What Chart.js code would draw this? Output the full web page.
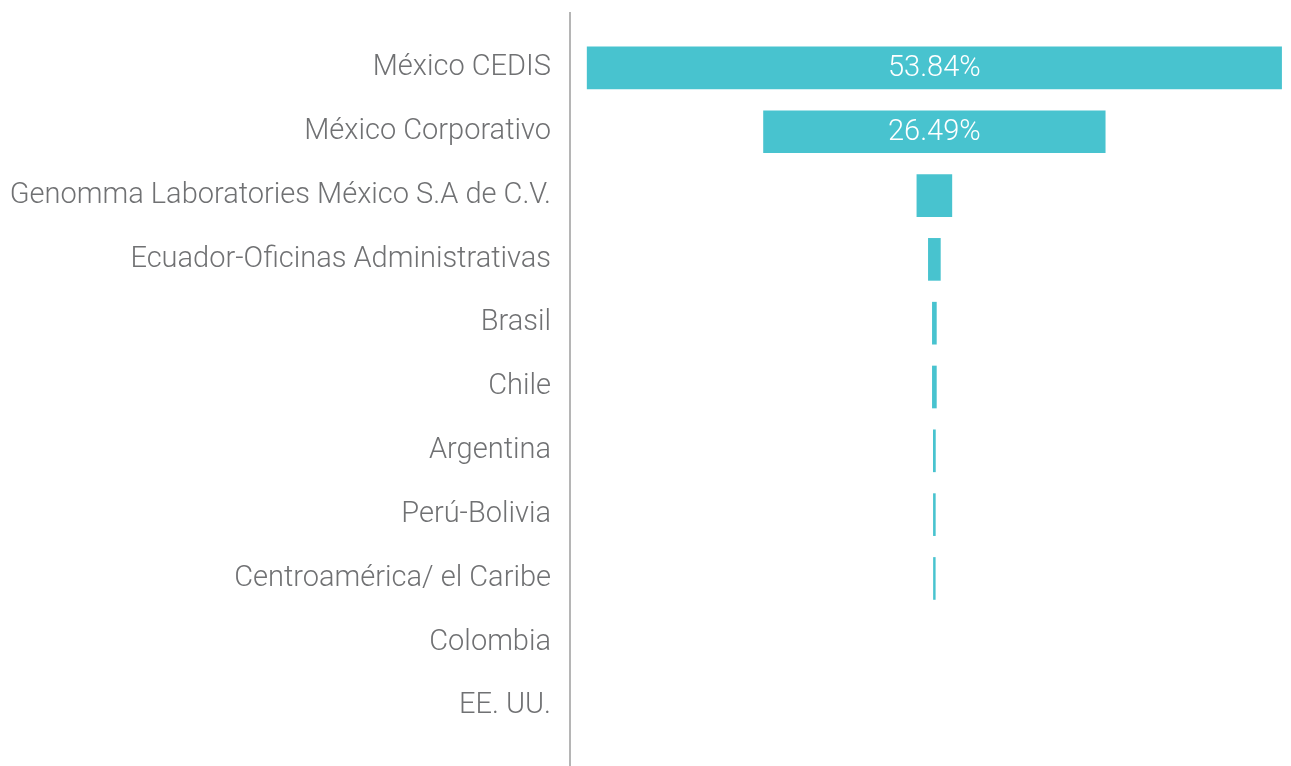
<!DOCTYPE html>
<html lang="es">
<head>
    <meta charset="UTF-8">
    <title>Distribución por sede</title>
    <script src="https://cdn.jsdelivr.net/npm/chart.js@4.4.1/dist/chart.umd.min.js"></script>
    <style>
        body { margin: 0; background: #fff; }
        canvas { display: block; }
    </style>
</head>
<body>
    <canvas id="chartFunnel" width="1291" height="766"></canvas>
    <script>
        const categories = [
            'México CEDIS',
            'México Corporativo',
            'Genomma Laboratories México S.A de C.V.',
            'Ecuador-Oficinas Administrativas',
            'Brasil',
            'Chile',
            'Argentina',
            'Perú-Bolivia',
            'Centroamérica/ el Caribe',
            'Colombia',
            'EE. UU.'
        ];
        const values = [53.84, 26.49, 2.71, 0.93, 0.31, 0.31, 0.16, 0.15, 0.14, 0, 0];
        const shownLabels = ['53.84%', '26.49%', '', '', '', '', '', '', '', '', ''];

        const barColor = '#48c3cf';
        const textColor = '#707173';
        const fontFamily = 'Roboto';

        // bars centred on zero, like a funnel; empty rows get no bar
        const funnelData = values.map(v => v > 0 ? [-v / 2, v / 2] : null);

        const axisLine = {
            id: 'axisLine',
            afterDraw(chart) {
                const ctx = chart.ctx;
                const x = chart.chartArea.left;
                ctx.save();
                ctx.strokeStyle = '#9d9d9d';
                ctx.lineWidth = 1.5;
                ctx.beginPath();
                ctx.moveTo(x, 12);
                ctx.lineTo(x, chart.height);
                ctx.stroke();
                ctx.restore();
            }
        };

        const barText = {
            id: 'barText',
            afterDatasetsDraw(chart) {
                const ctx = chart.ctx;
                const meta = chart.getDatasetMeta(0);
                const xScale = chart.scales.x;
                ctx.save();
                ctx.fillStyle = '#ffffff';
                ctx.font = '300 29px ' + fontFamily;
                ctx.textAlign = 'center';
                ctx.textBaseline = 'middle';
                meta.data.forEach((bar, i) => {
                    if (!shownLabels[i]) return;
                    ctx.fillText(shownLabels[i], xScale.getPixelForValue(0), bar.y + 1);
                });
                ctx.restore();
            }
        };

        const ctx = document.getElementById('chartFunnel').getContext('2d');
        const chartFunnel = new Chart(ctx, {
            type: 'bar',
            data: {
                labels: categories,
                datasets: [{
                    data: funnelData,
                    backgroundColor: barColor,
                    borderWidth: 0,
                    borderSkipped: false,
                    barThickness: 42
                }]
            },
            options: {
                indexAxis: 'y',
                responsive: false,
                animation: false,
                layout: {
                    padding: { top: 36, bottom: 28, left: 0, right: 0 }
                },
                plugins: {
                    legend: { display: false },
                    tooltip: { enabled: false }
                },
                scales: {
                    x: {
                        display: false,
                        min: -28.25,
                        max: 27.65
                    },
                    y: {
                        grid: { display: false, drawTicks: false },
                        border: { display: false },
                        afterFit(scale) {
                            scale.width = 570;
                            scale.paddingTop = 0;
                            scale.paddingBottom = 0;
                        },
                        ticks: {
                            padding: 19,
                            color: textColor,
                            font: { family: fontFamily, size: 29, weight: '300' }
                        }
                    }
                }
            },
            plugins: [axisLine, barText]
        });
    </script>
</body>
</html>
